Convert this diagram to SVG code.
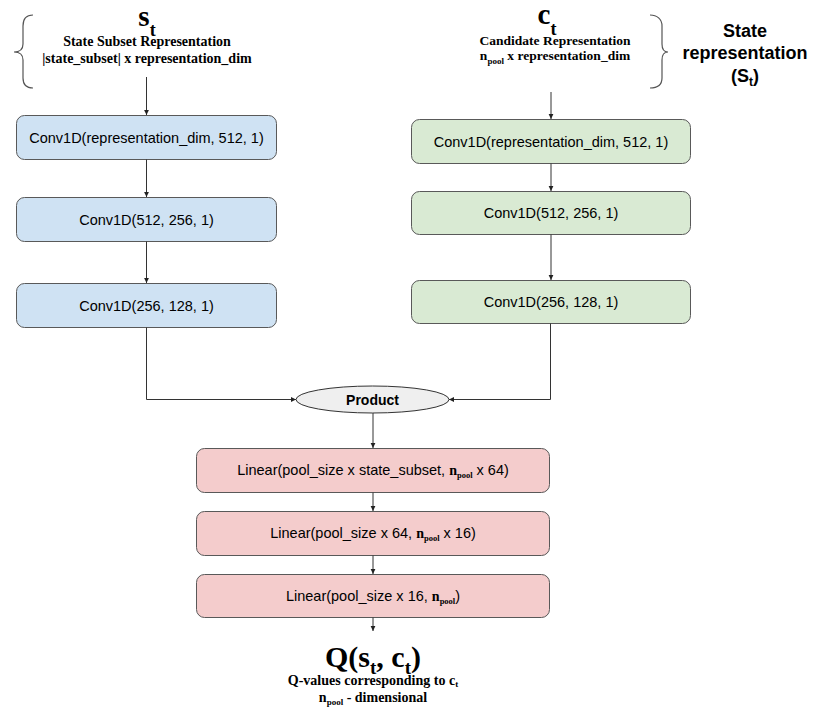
<svg xmlns="http://www.w3.org/2000/svg" width="830" height="719" viewBox="0 0 830 719">
<style>
.bg{fill:#ffffff}
.blue{fill:#cfe2f3;stroke:#595959;stroke-width:1}
.green{fill:#d9ead3;stroke:#595959;stroke-width:1}
.red{fill:#f4cccc;stroke:#595959;stroke-width:1}
.ell{fill:#efefef;stroke:#333333;stroke-width:1}
.lbl{font-family:"Liberation Sans",Arial,sans-serif;font-size:14.5px;fill:#000;text-anchor:middle}
.bs{font-family:"Liberation Serif","Times New Roman",serif;font-weight:bold;fill:#000}
.hs{font-family:"Liberation Sans",Arial,sans-serif;font-weight:bold;fill:#000;text-anchor:middle}
.c{fill:none;stroke:#333333;stroke-width:1}
.brace{fill:none;stroke:#555555;stroke-width:1.2}
</style>
<defs>
<marker id="ah" markerUnits="userSpaceOnUse" markerWidth="6" markerHeight="6" refX="5" refY="3" orient="auto">
<path d="M0,0.6 L5,3 L0,5.4 Z" fill="#222"/>
</marker>
</defs>
<rect class="bg" x="0" y="0" width="830" height="719"/>

<g id="header-left">
<path class="brace" d="M33,15 C26,15 23,19 23,26 L23,44 C23,49 20,52 14,52 C20,52 23,55 23,60 L23,78 C23,85 26,88 33,88"/>
<text class="bs" x="147" y="26" text-anchor="middle" font-size="29">s<tspan font-size="18" dy="10">t</tspan></text>
<text class="bs" x="147" y="46" text-anchor="middle" font-size="14">State Subset Representation</text>
<text class="bs" x="147" y="63" text-anchor="middle" font-size="14">|state_subset| x representation_dim</text>
</g>

<g id="header-right">
<text class="bs" x="547" y="24" text-anchor="middle" font-size="29">c<tspan font-size="18" dy="11">t</tspan></text>
<text class="bs" x="555" y="45" text-anchor="middle" font-size="13.5">Candidate Representation</text>
<text class="bs" x="555" y="60" text-anchor="middle" font-size="13.5">n<tspan font-size="9" dy="4">pool</tspan><tspan dy="-4"> x representation_dim</tspan></text>
<path class="brace" d="M650,15 C657,15 662,19 662,26 L662,44 C662,49 664,52 668,52 C664,52 662,55 662,60 L662,78 C662,85 657,88 650,88"/>
</g>

<g id="state-label">
<text class="hs" x="745" y="37" font-size="18">State</text>
<text class="hs" x="745" y="59" font-size="18">representation</text>
<text class="hs" x="745" y="82" font-size="18">(S<tspan font-size="12" dy="4">t</tspan><tspan dy="-4">)</tspan></text>
</g>

<g id="conv-s1"><rect class="blue" x="16.5" y="115.5" width="260" height="44" rx="8"/><text class="lbl" x="146.5" y="142.5">Conv1D(representation_dim, 512, 1)</text></g>
<g id="conv-s2"><rect class="blue" x="16.5" y="197.5" width="260" height="44" rx="8"/><text class="lbl" x="146.5" y="224.5">Conv1D(512, 256, 1)</text></g>
<g id="conv-s3"><rect class="blue" x="16.5" y="283.5" width="260" height="44" rx="8"/><text class="lbl" x="146.5" y="310.5">Conv1D(256, 128, 1)</text></g>

<g id="conv-c1"><rect class="green" x="411.5" y="119.5" width="279" height="44" rx="8"/><text class="lbl" x="551" y="146.5">Conv1D(representation_dim, 512, 1)</text></g>
<g id="conv-c2"><rect class="green" x="411.5" y="191.5" width="279" height="43" rx="8"/><text class="lbl" x="551" y="218">Conv1D(512, 256, 1)</text></g>
<g id="conv-c3"><rect class="green" x="411.5" y="280.5" width="279" height="43" rx="8"/><text class="lbl" x="551" y="307">Conv1D(256, 128, 1)</text></g>

<g id="product"><ellipse class="ell" cx="372.5" cy="399.5" rx="76.5" ry="13.5"/><text class="hs" x="372.5" y="404.5" font-size="14">Product</text></g>

<g id="linear1"><rect class="red" x="196.5" y="448.5" width="353" height="44" rx="8"/><text class="lbl" x="373" y="475">Linear(pool_size x state_subset, <tspan class="bs" font-size="14">n</tspan><tspan class="bs" font-size="8.5" dy="3">pool</tspan><tspan dy="-3"> x 64)</tspan></text></g>
<g id="linear2"><rect class="red" x="196.5" y="511.5" width="353" height="44" rx="8"/><text class="lbl" x="373" y="538">Linear(pool_size x 64, <tspan class="bs" font-size="14">n</tspan><tspan class="bs" font-size="8.5" dy="3">pool</tspan><tspan dy="-3"> x 16)</tspan></text></g>
<g id="linear3"><rect class="red" x="196.5" y="574.5" width="353" height="43" rx="8"/><text class="lbl" x="373" y="600.5">Linear(pool_size x 16, <tspan class="bs" font-size="14">n</tspan><tspan class="bs" font-size="8.5" dy="3">pool</tspan><tspan dy="-3">)</tspan></text></g>

<g id="output">
<text class="bs" x="373" y="667" text-anchor="middle" font-size="30">Q(s<tspan font-size="19" dy="7">t</tspan><tspan dy="-7">, c</tspan><tspan font-size="19" dy="7">t</tspan><tspan dy="-7">)</tspan></text>
<text class="bs" x="373" y="685" text-anchor="middle" font-size="14">Q-values corresponding to c<tspan font-size="9" dy="2">t</tspan></text>
<text class="bs" x="373" y="702" text-anchor="middle" font-size="14">n<tspan font-size="9" dy="3">pool</tspan><tspan dy="-3"> - dimensional</tspan></text>
</g>

<g id="connectors">
<path class="c" d="M146.5,77 V115" marker-end="url(#ah)"/>
<path class="c" d="M146.5,159.5 V197" marker-end="url(#ah)"/>
<path class="c" d="M146.5,241.5 V283" marker-end="url(#ah)"/>
<path class="c" d="M551,92 V119" marker-end="url(#ah)"/>
<path class="c" d="M551,163.5 V191" marker-end="url(#ah)"/>
<path class="c" d="M551,234.5 V280" marker-end="url(#ah)"/>
<path class="c" d="M146.5,327.5 V399.5 H296" marker-end="url(#ah)"/>
<path class="c" d="M550.5,323.5 V399.5 H449" marker-end="url(#ah)"/>
<path class="c" d="M373,413 V448" marker-end="url(#ah)"/>
<path class="c" d="M373,492.5 V511" marker-end="url(#ah)"/>
<path class="c" d="M373,555.5 V574" marker-end="url(#ah)"/>
<path class="c" d="M373,617.5 V631" marker-end="url(#ah)"/>
</g>
</svg>
